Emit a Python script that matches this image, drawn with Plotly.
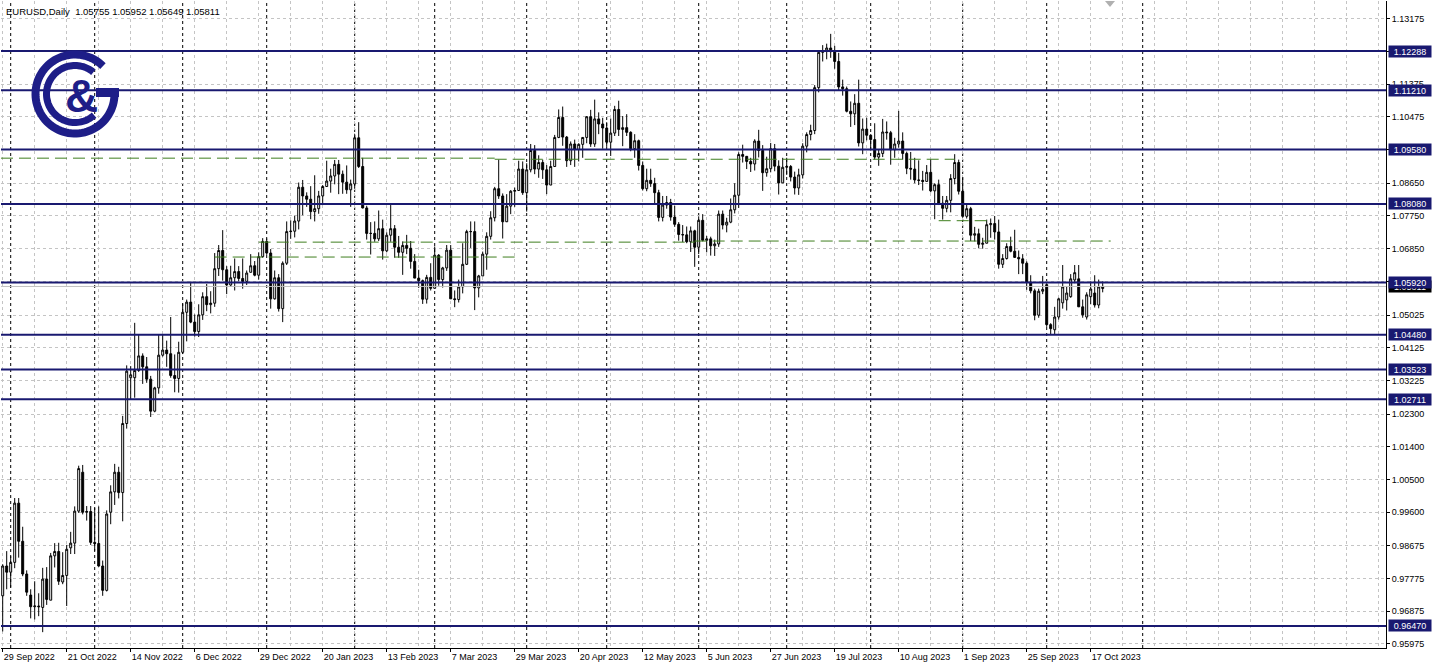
import numpy as np
import pandas as pd
import plotly.graph_objects as go

# ---------------- data ----------------
missing_days = ["2022-12-26"]
dates = [d for d in pd.bdate_range("2022-09-29", "2023-10-20").strftime("%Y-%m-%d") if d not in missing_days]

opens = [
 0.9730,0.9812,0.9795,0.9822,0.9985,0.9880,0.9790,0.9732,0.9700,0.9702,0.9698,0.9776,0.9718,0.9840,0.9852,0.9768,0.9786,0.9862,0.9875,0.9963,
 1.0070,0.9960,0.9962,0.9877,0.9874,0.9812,0.9745,0.9960,1.0016,1.0070,1.0014,1.0204,1.0330,1.0330,1.0350,1.0390,1.0360,1.0326,1.0238,1.0302,
 1.0392,1.0406,1.0396,1.0336,1.0328,1.0400,1.0510,1.0538,1.0483,1.0457,1.0503,1.0553,1.0531,1.0535,1.0630,1.0680,1.0627,1.0585,1.0605,1.0622,
 1.0603,1.0595,1.0620,1.0638,1.0612,1.0663,1.0705,1.0673,1.0547,1.0605,1.0520,1.0645,1.0732,1.0733,1.0761,1.0854,1.0830,1.0821,1.0787,1.0795,
 1.0830,1.0856,1.0871,1.0885,1.0917,1.0890,1.0868,1.0847,1.0863,1.0990,1.0911,1.0797,1.0727,1.0727,1.0712,1.0740,1.0679,1.0722,1.0740,1.0689,
 1.0675,1.0694,1.0686,1.0650,1.0604,1.0597,1.0546,1.0606,1.0576,1.0667,1.0600,1.0632,1.0681,1.0547,1.0545,1.0580,1.0642,1.0732,1.0732,1.0577,
 1.0610,1.0670,1.0719,1.0770,1.0850,1.0830,1.0759,1.0802,1.0843,1.0845,1.0904,1.0839,1.0902,1.0955,1.0904,1.0922,1.0902,1.0860,1.0911,1.0991,
 1.1046,1.0992,1.0927,1.0973,1.0958,1.0972,1.0991,1.1048,1.0973,1.1042,1.1028,1.1017,1.0978,1.1003,1.1068,1.1013,1.1018,1.1005,1.0960,1.0982,
 1.0914,1.0850,1.0873,1.0864,1.0839,1.0771,1.0805,1.0812,1.0772,1.0752,1.0724,1.0723,1.0704,1.0734,1.0689,1.0763,1.0708,1.0712,1.0693,1.0698,
 1.0780,1.0750,1.0758,1.0792,1.0832,1.0944,1.0939,1.0925,1.0918,1.0981,1.0955,1.0894,1.0905,1.0960,1.0912,1.0866,1.0909,1.0911,1.0882,1.0852,
 1.0888,1.0967,1.0999,1.1010,1.1128,1.1225,1.1228,1.1237,1.1227,1.1200,1.1130,1.1125,1.1063,1.1056,1.1085,1.0976,1.1014,1.0997,1.0985,1.0937,
 1.0947,1.1006,1.1004,1.0957,1.0973,1.0981,1.0947,1.0906,1.0904,1.0874,1.0873,1.0870,1.0895,1.0844,1.0861,1.0810,1.0796,1.0818,1.0878,1.0922,
 1.0843,1.0774,1.0795,1.0722,1.0726,1.0697,1.0700,1.0751,1.0754,1.0731,1.0642,1.0658,1.0691,1.0678,1.0661,1.0657,1.0645,1.0593,1.0569,1.0502,
 1.0568,1.0586,1.0476,1.0462,1.0497,1.0536,1.0544,1.0553,1.0599,1.0602,1.0525,1.0497,1.0553,1.0563,1.0530,1.05755]

highs = [
 0.9817,0.9853,0.9839,0.9999,0.9999,0.9920,0.9800,0.9748,0.9770,0.9737,0.9807,0.9809,0.9848,0.9875,0.9876,0.9850,0.9870,0.9906,0.9976,1.0088,
 1.0090,0.9977,0.9977,0.9972,0.9976,0.9827,0.9965,1.0034,1.0093,1.0085,1.0225,1.0364,1.0362,1.0481,1.0449,1.0397,1.0387,1.0335,1.0305,1.0448,
 1.0448,1.0432,1.0497,1.0394,1.0429,1.0534,1.0545,1.0594,1.0504,1.0532,1.0565,1.0588,1.0568,1.0673,1.0695,1.0736,1.0637,1.0638,1.0658,1.0637,
 1.0658,1.0625,1.0670,1.0651,1.0675,1.0714,1.0713,1.0684,1.0625,1.0615,1.0650,1.0760,1.0763,1.0776,1.0867,1.0874,1.0840,1.0857,1.0887,1.0844,
 1.0860,1.0927,1.0905,1.0929,1.0929,1.0900,1.0914,1.0875,1.1000,1.1033,1.0935,1.0803,1.0758,1.0760,1.0790,1.0765,1.0730,1.0805,1.0750,1.0720,
 1.0705,1.0723,1.0706,1.0670,1.0627,1.0600,1.0613,1.0645,1.0691,1.0670,1.0635,1.0695,1.0695,1.0570,1.0600,1.0700,1.0737,1.0760,1.0760,1.0613,
 1.0677,1.0730,1.0788,1.0855,1.0930,1.0837,1.0835,1.0846,1.0853,1.0927,1.0925,1.0920,1.0973,1.0970,1.0942,1.0930,1.0915,1.0927,1.0998,1.1068,
 1.1076,1.0995,1.0980,1.0985,1.0975,1.0990,1.1050,1.1067,1.1095,1.1060,1.1045,1.1033,1.1043,1.1078,1.1092,1.1050,1.1055,1.1008,1.1000,1.0985,
 1.0925,1.0905,1.0905,1.0880,1.0847,1.0830,1.0830,1.0822,1.0803,1.0758,1.0750,1.0746,1.0746,1.0737,1.0774,1.0780,1.0720,1.0718,1.0710,1.0790,
 1.0790,1.0770,1.0823,1.0865,1.0950,1.0971,1.0940,1.0935,1.0986,1.1012,1.0970,1.0938,1.0976,1.0973,1.0928,1.0935,1.0935,1.0915,1.0897,1.0905,
 1.0975,1.1005,1.1026,1.1135,1.1230,1.1245,1.1249,1.1276,1.1243,1.1224,1.1150,1.1131,1.1090,1.1110,1.1150,1.1043,1.1045,1.1000,1.1030,1.0958,
 1.1042,1.1035,1.1009,1.0990,1.1064,1.1005,1.0952,1.0951,1.0935,1.0928,1.0899,1.0915,1.0931,1.0865,1.0875,1.0830,1.0830,1.0890,1.0945,1.0930,
 1.0882,1.0810,1.0800,1.0745,1.0740,1.0715,1.0765,1.0768,1.0775,1.0765,1.0670,1.0700,1.0718,1.0737,1.0680,1.0670,1.0650,1.0612,1.0575,1.0575,
 1.0610,1.0590,1.0480,1.0525,1.0550,1.0640,1.0580,1.0615,1.0640,1.0640,1.0545,1.0565,1.0595,1.0612,1.0600,1.05952]

lows = [
 0.9632,0.9748,0.9753,0.9806,0.9835,0.9784,0.9730,0.9668,0.9665,0.9674,0.9630,0.9705,0.9718,0.9808,0.9760,0.9762,0.9702,0.9845,0.9845,0.9958,
 0.9954,0.9937,0.9870,0.9854,0.9810,0.9730,0.9742,0.9927,0.9980,0.9998,0.9935,1.0190,1.0270,1.0275,1.0346,1.0313,1.0316,1.0222,1.0235,1.0286,
 1.0388,1.0360,1.0330,1.0290,1.0289,1.0395,1.0430,1.0480,1.0443,1.0442,1.0489,1.0513,1.0507,1.0525,1.0610,1.0597,1.0560,1.0580,1.0570,1.0595,
 1.0575,1.0585,1.0620,1.0609,1.0600,1.0660,1.0668,1.0520,1.0545,1.0512,1.0483,1.0640,1.0712,1.0716,1.0738,1.0777,1.0800,1.0766,1.0760,1.0781,
 1.0805,1.0855,1.0839,1.0862,1.0835,1.0836,1.0836,1.0800,1.0850,1.0907,1.0796,1.0710,1.0669,1.0704,1.0706,1.0655,1.0675,1.0704,1.0660,1.0660,
 1.0613,1.0670,1.0630,1.0604,1.0577,1.0533,1.0534,1.0570,1.0575,1.0583,1.0578,1.0624,1.0547,1.0524,1.0537,1.0562,1.0640,1.0687,1.0516,1.0551,
 1.0610,1.0627,1.0710,1.0760,1.0822,1.0713,1.0760,1.0780,1.0800,1.0845,1.0833,1.0787,1.0895,1.0890,1.0880,1.0877,1.0835,1.0860,1.0910,1.0989,
 1.0968,1.0910,1.0915,1.0910,1.0925,1.0935,1.0975,1.0965,1.0965,1.1000,1.0960,1.0965,1.0940,1.0995,1.0995,1.0967,1.0995,1.0953,1.0935,1.0900,
 1.0845,1.0843,1.0855,1.0806,1.0760,1.0760,1.0795,1.0762,1.0745,1.0707,1.0703,1.0700,1.0676,1.0635,1.0670,1.0705,1.0675,1.0666,1.0665,1.0690,
 1.0738,1.0730,1.0755,1.0782,1.0797,1.0922,1.0904,1.0896,1.0900,1.0936,1.0844,1.0883,1.0895,1.0898,1.0834,1.0866,1.0888,1.0870,1.0834,1.0833,
 1.0878,1.0950,1.0983,1.1000,1.1115,1.1200,1.1206,1.1210,1.1180,1.1119,1.1106,1.1060,1.1020,1.1025,1.0966,1.0945,1.0983,1.0955,1.0930,1.0913,
 1.0937,1.0985,1.0916,1.0935,1.0963,1.0930,1.0890,1.0875,1.0865,1.0860,1.0845,1.0870,1.0840,1.0766,1.0805,1.0765,1.0785,1.0785,1.0862,1.0834,
 1.0770,1.0768,1.0706,1.0705,1.0686,1.0685,1.0700,1.0715,1.0710,1.0630,1.0632,1.0655,1.0675,1.0660,1.0615,1.0615,1.0572,1.0562,1.0488,1.0495,
 1.0560,1.0470,1.0448,1.0450,1.0490,1.0520,1.0515,1.0550,1.0590,1.0525,1.0495,1.0490,1.0532,1.0523,1.0521,1.05649]

closes = [
 0.9812,0.9795,0.9822,0.9985,0.9880,0.9790,0.9740,0.9700,0.9702,0.9700,0.9776,0.9720,0.9840,0.9852,0.9770,0.9786,0.9858,0.9875,0.9963,1.0080,
 0.9960,0.9962,0.9877,0.9874,0.9812,0.9745,0.9955,1.0016,1.0070,1.0014,1.0204,1.0348,1.0338,1.0350,1.0390,1.0360,1.0326,1.0238,1.0302,1.0392,
 1.0406,1.0396,1.0336,1.0328,1.0400,1.0510,1.0538,1.0483,1.0457,1.0503,1.0553,1.0531,1.0535,1.0630,1.0680,1.0627,1.0585,1.0605,1.0622,1.0603,
 1.0595,1.0618,1.0638,1.0612,1.0663,1.0705,1.0673,1.0547,1.0605,1.0520,1.0645,1.0732,1.0733,1.0761,1.0854,1.0830,1.0821,1.0787,1.0795,1.0830,
 1.0856,1.0871,1.0885,1.0917,1.0890,1.0868,1.0847,1.0863,1.0990,1.0911,1.0797,1.0727,1.0727,1.0712,1.0740,1.0679,1.0722,1.0740,1.0689,1.0675,
 1.0694,1.0686,1.0650,1.0604,1.0597,1.0546,1.0606,1.0576,1.0667,1.0600,1.0632,1.0681,1.0547,1.0545,1.0580,1.0642,1.0732,1.0732,1.0577,1.0610,
 1.0670,1.0719,1.0770,1.0850,1.0830,1.0759,1.0802,1.0843,1.0845,1.0904,1.0839,1.0902,1.0955,1.0904,1.0922,1.0902,1.0860,1.0911,1.0991,1.1046,
 1.0992,1.0927,1.0973,1.0958,1.0972,1.0991,1.1048,1.0973,1.1042,1.1028,1.1017,1.0978,1.1003,1.1068,1.1013,1.1018,1.1005,1.0960,1.0982,1.0914,
 1.0850,1.0873,1.0864,1.0839,1.0771,1.0805,1.0812,1.0772,1.0752,1.0724,1.0723,1.0704,1.0734,1.0689,1.0763,1.0708,1.0712,1.0693,1.0698,1.0780,
 1.0750,1.0758,1.0792,1.0832,1.0944,1.0939,1.0925,1.0918,1.0981,1.0955,1.0894,1.0905,1.0960,1.0912,1.0866,1.0909,1.0911,1.0882,1.0852,1.0888,
 1.0967,1.0999,1.1010,1.1128,1.1225,1.1228,1.1237,1.1227,1.1200,1.1130,1.1125,1.1063,1.1056,1.1085,1.0976,1.1014,1.0997,1.0985,1.0937,1.0947,
 1.1006,1.1004,1.0957,1.0973,1.0981,1.0947,1.0906,1.0904,1.0874,1.0873,1.0870,1.0895,1.0844,1.0861,1.0810,1.0796,1.0818,1.0878,1.0922,1.0843,
 1.0774,1.0795,1.0722,1.0726,1.0697,1.0700,1.0751,1.0754,1.0731,1.0642,1.0658,1.0691,1.0678,1.0661,1.0657,1.0645,1.0593,1.0569,1.0502,1.0568,
 1.0573,1.0476,1.0465,1.0497,1.0547,1.0580,1.0563,1.0602,1.0619,1.0525,1.0503,1.0558,1.0574,1.0530,1.0580,1.05811]

x_tick_dates = ["2022-09-29","2022-10-21","2022-11-14","2022-12-06","2022-12-29","2023-01-20","2023-02-13",
                "2023-03-07","2023-03-29","2023-04-20","2023-05-12","2023-06-05","2023-06-27","2023-07-19",
                "2023-08-10","2023-09-01","2023-09-25","2023-10-17"]
x_tick_labels = ["29 Sep 2022","21 Oct 2022","14 Nov 2022","6 Dec 2022","29 Dec 2022","20 Jan 2023","13 Feb 2023",
                 "7 Mar 2023","29 Mar 2023","20 Apr 2023","12 May 2023","5 Jun 2023","27 Jun 2023","19 Jul 2023",
                 "10 Aug 2023","1 Sep 2023","25 Sep 2023","17 Oct 2023"]

# grid levels of the price scale; labels fully hidden behind level boxes in the reference are blank
y_ticks = [1.13175,1.12275,1.11375,1.10475,1.09575,1.08650,1.07750,1.06850,1.05950,1.05025,1.04125,
           1.03225,1.02300,1.01400,1.00500,0.99600,0.98675,0.97775,0.96875,0.95975]
y_tick_labels = ["1.13175","","1.11375","1.10475","","1.08650","1.07750","1.06850","","1.05025","1.04125",
                 "1.03225","1.02300","1.01400","1.00500","0.99600","0.98675","0.97775","0.96875","0.95975"]

levels = [1.12288,1.11210,1.09580,1.08080,1.05920,1.04480,1.03523,1.02711,0.96470]
level_labels = ["1.12288","1.11210","1.09580","1.08080","1.05920","1.04480","1.03523","1.02711","0.96470"]

# green dashed trend lines: (start date, end date, price start, price end)
green_start = ["2022-09-29","2023-03-22","2022-12-29","2023-05-31","2022-12-13","2023-08-24"]
green_end   = ["2023-03-22","2023-08-30","2023-05-31","2023-10-24","2023-03-29","2023-09-12"]
green_p0    = [1.0934,1.0931,1.0703,1.0706,1.0662,1.0762]
green_p1    = [1.0934,1.0931,1.0703,1.0706,1.0662,1.0762]

symbol = "EURUSD,Daily"
bid_price = closes[-1]

# ---------------- geometry helpers ----------------
W, H = 1437, 669
ML, MR, MT, MB = 1, 51, 1, 21
PW, PH = W - ML - MR, H - MT - MB
X0, X1 = -0.425, 345.825
Y0, Y1 = 0.958645, 1.136636

def px(x):
    return (x - ML) / PW

def py(y):
    return 1 - (y - MT) / PH

idx = {d: i for i, d in enumerate(dates)}

def date_pos(d):
    if d in idx:
        return idx[d]
    extra = len(pd.bdate_range(dates[-1], d)) - 1
    return len(dates) - 1 + extra

xs = list(range(len(dates)))

NAVY = "#191970"
GRID = "#c4c4c4"
GREEN = "#3f7f1f"

fig = go.Figure()
fig.add_trace(go.Candlestick(
    x=xs, open=opens, high=highs, low=lows, close=closes,
    increasing=dict(line=dict(color="black", width=1), fillcolor="white"),
    decreasing=dict(line=dict(color="black", width=1), fillcolor="black"),
    whiskerwidth=0, showlegend=False, hoverinfo="skip"))

shapes = []
months = pd.Series(pd.to_datetime(dates)).dt.to_period("M")
sep_pos = [i for i in range(1, len(dates)) if months[i] != months[i - 1]]
sep_pos.append(date_pos("2023-11-03"))
for s in sep_pos:
    shapes.append(dict(type="line", xref="x", yref="paper", x0=s, x1=s, y0=0, y1=1,
                       line=dict(color="black", width=1, dash="3px,3px"), layer="between"))

shapes.append(dict(type="line", xref="paper", yref="y", x0=0, x1=1, y0=bid_price, y1=bid_price,
                   line=dict(color="#c0c0c0", width=1), layer="above"))
for lv in levels:
    shapes.append(dict(type="line", xref="paper", yref="y", x0=0, x1=1, y0=lv, y1=lv,
                       line=dict(color=NAVY, width=2), layer="above"))
for s, e, p0, p1 in zip(green_start, green_end, green_p0, green_p1):
    xa = date_pos(s) if s != dates[0] else X0
    shapes.append(dict(type="line", xref="x", yref="y", x0=xa, x1=date_pos(e), y0=p0, y1=p1,
                       line=dict(color=GREEN, width=1, dash="12px,6px"), layer="above"))

shapes.append(dict(type="path", xref="paper", yref="paper",
                   path=f"M {px(1105)} {py(1)} L {px(1115)} {py(1)} L {px(1110)} {py(7)} Z",
                   fillcolor="#b0b0b0", line=dict(width=0), layer="above"))

LOGO = "#1e1e88"
def arc(cx, cy, r, a0, a1, n=80):
    t = np.radians(np.linspace(a0, a1, n))
    pts = [(cx + r * np.cos(a), cy - r * np.sin(a)) for a in t]
    return "M " + " L ".join(f"{px(x):.5f} {py(y):.5f}" for x, y in pts)

cx, cy = 75, 94
shapes.append(dict(type="path", xref="paper", yref="paper", path=arc(cx, cy, 39.5, 45, 360),
                   line=dict(color=LOGO, width=8), layer="above"))
shapes.append(dict(type="path", xref="paper", yref="paper",
                   path=f"M {px(96)} {py(92.5)} L {px(119)} {py(92.5)}",
                   line=dict(color=LOGO, width=9), layer="above"))
shapes.append(dict(type="path", xref="paper", yref="paper", path=arc(cx, cy, 28.5, 50, 312),
                   line=dict(color=LOGO, width=7), layer="above"))

annotations = []
annotations.append(dict(xref="paper", yref="paper", x=px(81), y=py(96), text="<b>&amp;</b>",
                        showarrow=False, font=dict(family="Liberation Sans", size=46, color=LOGO),
                        xanchor="center", yanchor="middle"))
header = f"{symbol}\u00a0\u00a0{opens[-1]:.5f} {highs[-1]:.5f} {lows[-1]:.5f} {closes[-1]:.5f}"
annotations.append(dict(xref="paper", yref="paper", x=px(4), y=py(11), text=header, showarrow=False,
                        font=dict(family="Liberation Sans", size=9.5, color="black"),
                        xanchor="left", yanchor="middle"))
annotations.append(dict(xref="paper", yref="y", x=1, y=bid_price, xshift=2, text=f"{bid_price:.5f}",
                        showarrow=False, bgcolor="black", font=dict(family="Liberation Sans", size=9, color="white"),
                        xanchor="left", yanchor="middle", width=42, height=11, borderpad=0))
for lv, lab in zip(levels, level_labels):
    annotations.append(dict(xref="paper", yref="y", x=1, y=lv, xshift=2, text=lab, showarrow=False,
                            bgcolor=NAVY, font=dict(family="Liberation Sans", size=9, color="white"),
                            xanchor="left", yanchor="middle", width=42, height=11, borderpad=0))

fig.update_layout(
    width=W, height=H, autosize=False,
    margin=dict(l=ML, r=MR, t=MT, b=MB, pad=0),
    paper_bgcolor="white", plot_bgcolor="white",
    shapes=shapes, annotations=annotations, showlegend=False,
    hovermode=False,
    xaxis=dict(range=[X0, X1], rangeslider=dict(visible=False), showgrid=True,
               tickmode="array", tickvals=[date_pos(d) for d in x_tick_dates], ticktext=x_tick_labels,
               ticklabelposition="outside right", ticks="outside", ticklen=3, tickcolor="black",
               gridcolor=GRID, griddash="3px,3px", gridwidth=1,
               minor=dict(tick0=0, dtick=8, showgrid=True, gridcolor=GRID, griddash="3px,3px", ticks=""),
               showline=True, linecolor="black", linewidth=1, zeroline=False,
               tickfont=dict(family="Liberation Sans", size=9, color="black")),
    yaxis=dict(range=[Y0, Y1], side="right", tickmode="array", tickvals=y_ticks, ticktext=y_tick_labels,
               showgrid=True, gridcolor=GRID, griddash="3px,3px", gridwidth=1,
               ticks="outside", ticklen=3, tickcolor="black",
               showline=True, linecolor="black", linewidth=1, zeroline=False,
               tickfont=dict(family="Liberation Sans", size=9, color="black")),
)

fig.write_html("out.html", config={"displayModeBar": False},
               post_script="document.body.style.margin='0';document.body.style.overflow='hidden';")
